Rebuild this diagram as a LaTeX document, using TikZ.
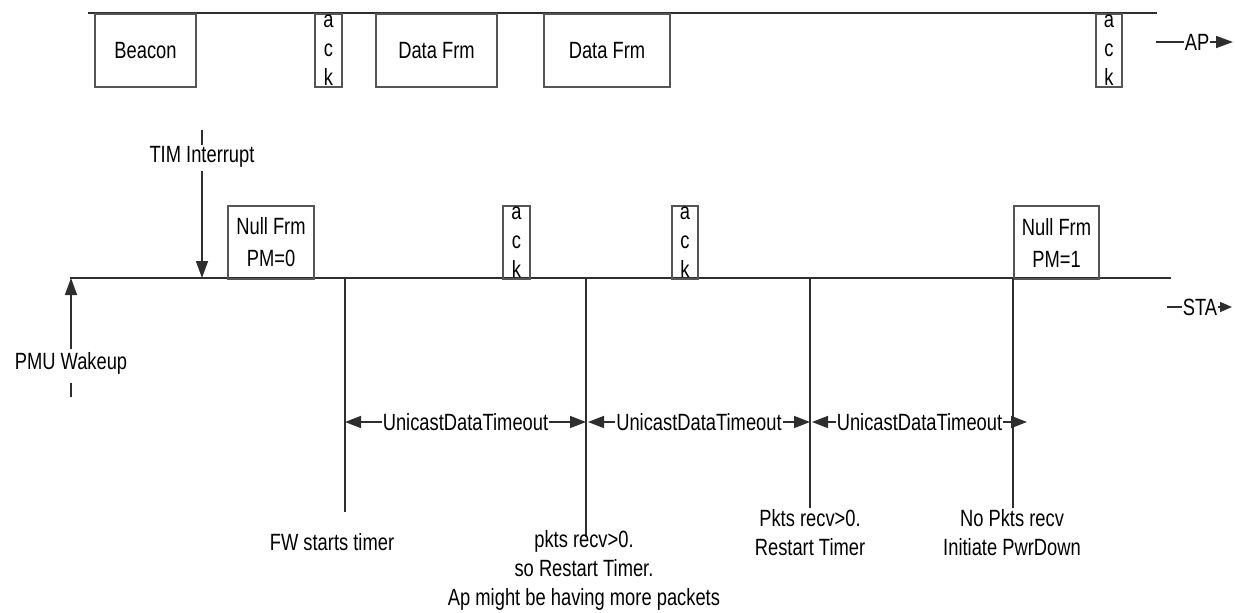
\documentclass[tikz,border=0pt]{standalone}
\usepackage{fontspec}
\setmainfont[FakeStretch=0.78]{Liberation Sans}
\usetikzlibrary{arrows.meta,positioning}
\definecolor{LineGray}{HTML}{2E2E2E}
\definecolor{BoxGray}{HTML}{555555}

\begin{document}
\begin{tikzpicture}[
    x=1pt,y=-1pt,font=\fontsize{23.5}{30}\selectfont,
    frm/.style={draw=BoxGray,line width=2pt,anchor=north west,inner sep=0pt,
      align=center,minimum height=73pt},
    ackbox/.style={frm,font=\fontsize{23.5}{29}\selectfont},
    nullbox/.style={frm,font=\fontsize{23.5}{32}\selectfont},
    tline/.style={draw=LineGray,line width=1.6pt},
    tarrow/.style={tline,-{Triangle[length=17pt,width=12pt]}},
    span/.style={tline,{Triangle[length=16pt,width=12pt]}-{Triangle[length=16pt,width=12pt]}},
    lbl/.style={align=center,inner sep=2pt,font=\fontsize{23.5}{29}\selectfont},
    spanlbl/.style={fill=white,inner sep=1pt}
  ]
    \useasboundingbox (0,0) rectangle (1235,613);

    % AP time line
    \coordinate (apl) at (88,13);
    \coordinate (apr) at (1157,13);
    \draw[tline] (apl) -- (apr);
    \node[frm,minimum width=101pt] (beacon) at (94,13) {Beacon};
    \node[ackbox,minimum width=27pt] (apack1) at (314,13) {a\\c\\k};
    \node[frm,minimum width=121pt] (data1) at (375,13) {Data Frm};
    \node[frm,minimum width=126pt] (data2) at (543,13) {Data Frm};
    \node[ackbox,minimum width=26pt] (apack2) at (1095,13) {a\\c\\k};
    \node[inner sep=1pt] (aplbl) at (1197,42) {AP};
    \coordinate (apin) at (1156,42);
    \coordinate (apout) at (1233,42);
    \draw[tline] (apin) -- (aplbl.west);
    \draw[tarrow] (aplbl.east) -- (apout);

    % STA time line
    \coordinate (stal) at (70,278);
    \coordinate (star) at (1171,278);
    \draw[tline] (stal) -- (star);
    \node[nullbox,minimum width=86pt] (null0) at (227,205) {Null Frm\\PM=0};
    \node[ackbox,minimum width=27pt] (staack1) at (502,205) {a\\c\\k};
    \node[ackbox,minimum width=26pt] (staack2) at (671,205) {a\\c\\k};
    \node[nullbox,minimum width=85pt] (null1) at (1013,205) {Null Frm\\PM=1};
    \node[inner sep=1pt] (stalbl) at (1200,307) {STA};
    \coordinate (stain) at (1167,307);
    \coordinate (staout) at (1232,307);
    \draw[tline] (stain) -- (stalbl.west);
    \draw[tline,-{Triangle[length=12pt,width=10pt]}] (stalbl.east) -- (staout);

    % events
    \node (tim) at (202,157) {TIM Interrupt};
    \coordinate (timtop) at (202,130);
    \coordinate (timtopb) at (202,145);
    \coordinate (timhit) at (202,278);
    \draw[tline] (timtop) -- (timtopb);
    \draw[tarrow] (tim.south) -- (timhit);
    \node (pmu) at (71,363) {PMU Wakeup};
    \coordinate (pmuhit) at (71,278);
    \coordinate (pmubot) at (71,383);
    \coordinate (pmubotb) at (71,397);
    \draw[tarrow] (pmu.north) -- (pmuhit);
    \draw[tline] (pmubot) -- (pmubotb);

    % timer marks
    \coordinate (m1) at (345,278);
    \coordinate (m1b) at (345,512);
    \coordinate (m2) at (586,278);
    \coordinate (m2b) at (586,537);
    \coordinate (m3) at (810,278);
    \coordinate (m3b) at (810,508);
    \coordinate (m4) at (1013,278);
    \coordinate (m4b) at (1013,508);
    \draw[tline] (m1) -- (m1b);
    \draw[tline] (m2) -- (m2b);
    \draw[tline] (m3) -- (m3b);
    \draw[tline] (m4) -- (m4b);

    % timeouts
    \coordinate (s1a) at (345,422);
    \coordinate (s1b) at (586,422);
    \coordinate (s2a) at (588,422);
    \coordinate (s2b) at (810,422);
    \coordinate (s3a) at (812,422);
    \coordinate (s3b) at (1027,422);
    \draw[span] (s1a) -- node[spanlbl] {UnicastDataTimeout} (s1b);
    \draw[span] (s2a) -- node[spanlbl] {UnicastDataTimeout} (s2b);
    \draw[span] (s3a) -- node[spanlbl] {UnicastDataTimeout} (s3b);

    % notes
    \node[lbl] (fwnote) at (332,542) {FW starts timer};
    \node[lbl] (recvnote) at (584,570) {pkts recv>0.\\so Restart Timer.\\Ap might be having more packets};
    \node[lbl] (restartnote) at (810,533) {Pkts recv>0.\\Restart Timer};
    \node[lbl] (downnote) at (1012,533) {No Pkts recv\\Initiate PwrDown};
  \end{tikzpicture}
\end{document}
